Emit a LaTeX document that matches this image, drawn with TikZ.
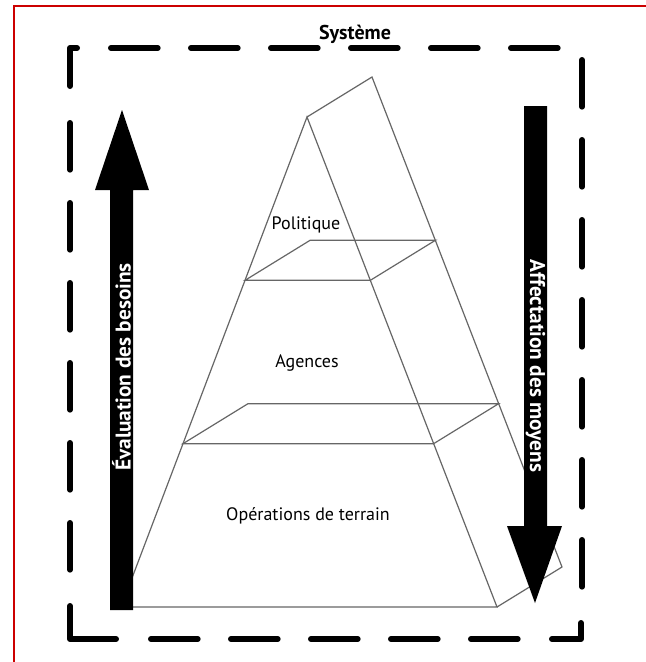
\documentclass[tikz,border=0pt]{standalone}
\usepackage{fontspec}
\setmainfont{PT Sans}
\usetikzlibrary{calc}

\begin{document}
\begin{tikzpicture}[x=0.75pt,y=-0.75pt,
  edge/.style={black!60, line width=0.9pt},
  frame/.style={line width=4.5pt, line cap=round, dash pattern=on 35pt off 25pt},
  corner/.style={line width=4.5pt, line cap=round, line join=round},
  level/.style={anchor=base, font=\fontsize{13.5}{16}\selectfont},
  band/.style={text=white, font=\bfseries\fontsize{16}{18}\selectfont}]
\useasboundingbox (0,0) rectangle (646,662);
\fill[white] (0,0) rectangle (646,662);
\draw[red!80!black, line width=0.8pt] (14,662) -- (14,6) -- (646,6);

\coordinate (A) at (307,117);
\coordinate (B) at (121,607);
\coordinate (C) at (497,607);
\coordinate (D) at ($(A)+(65,-40)$);
\coordinate (E) at ($(C)+(65,-40)$);
\coordinate (F) at ($(A)!1/3!(B)$);
\coordinate (G) at ($(A)!1/3!(C)$);
\coordinate (H) at ($(F)+(65,-40)$);
\coordinate (I) at ($(G)+(65,-40)$);
\coordinate (J) at ($(A)!2/3!(B)$);
\coordinate (K) at ($(A)!2/3!(C)$);
\coordinate (L) at ($(J)+(65,-40)$);
\coordinate (M) at ($(K)+(65,-40)$);

\draw[edge] (B) -- (A) -- (C) -- cycle;
\draw[edge] (A) -- (D) -- (E) -- (C);
\draw[edge] (F) -- (G) -- (I) -- (H) -- cycle;
\draw[edge] (J) -- (K) -- (M) -- (L) -- cycle;

\draw[frame] (111,48) -- (563,48);
\draw[frame] (70,123) -- (70,573);
\draw[frame] (151,639) -- (521,639);
\draw[frame] (582,60) -- (582,590);
\draw[corner] (70,86) -- (70,48) -- (77,48);
\draw[corner] (70,606) -- (70,639) -- (116,639);
\draw[corner] (552,639) -- (581,639) -- (581,623);

\fill (110,610) -- (110,190) -- (95,190) -- (122,110) -- (149,190) -- (133,190) -- (133,610) -- cycle;
\fill (524,106) -- (524,526) -- (507,526) -- (535,603) -- (562,526) -- (547,526) -- (547,106) -- cycle;

\node[font=\bfseries\fontsize{15}{17}\selectfont, anchor=base] (systeme) at (355,39) {Système};
\node[level] (politique) at (306,229) {Politique};
\node[level] (agences) at (307,367) {Agences};
\node[level] (terrain) at (308,520) {Opérations de terrain};
\node[band, rotate=90] (besoins) at (121.5,367) {Évaluation des besoins};
\node[band, rotate=-90] (moyens) at (535.5,366) {Affectation des moyens};
\end{tikzpicture}
\end{document}
